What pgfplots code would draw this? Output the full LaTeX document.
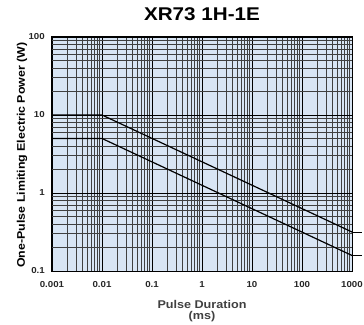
\documentclass[border=0pt]{standalone}
\usepackage{fontspec}
\setmainfont{Liberation Sans}[FakeStretch=1.12]
\usepackage{pgfplots}
\pgfplotsset{compat=1.18}
\definecolor{bgblue}{RGB}{216,229,244}
\begin{document}
\begin{tikzpicture}
\useasboundingbox (-52bp,-54bp) rectangle (312bp,271bp);
\begin{axis}[
  at={(0,0)}, anchor=south west,
  scale only axis, width=300bp, height=234bp,
  xmode=log, ymode=log,
  xmin=0.001, xmax=1000, ymin=0.1, ymax=100,
  axis background/.style={fill=bgblue},
  axis line style={black, line width=1pt},
  xtick={0.001,0.01,0.1,1,10,100,1000},
  xticklabels={0.001,0.01,0.1,1,10,100,1000},
  ytick={0.1,1,10,100},
  yticklabels={0.1,1,10,100},
  minor xtick={0.002,0.003,0.004,0.005,0.006,0.007,0.008,0.009,
    0.02,0.03,0.04,0.05,0.06,0.07,0.08,0.09,
    0.2,0.3,0.4,0.5,0.6,0.7,0.8,0.9,
    2,3,4,5,6,7,8,9,20,30,40,50,60,70,80,90,
    200,300,400,500,600,700,800,900},
  minor ytick={0.2,0.3,0.4,0.5,0.6,0.7,0.8,0.9,
    2,3,4,5,6,7,8,9,20,30,40,50,60,70,80,90},
  major tick length=0pt, minor tick length=0pt,
  grid=both,
  major grid style={black, line width=0.9pt},
  minor grid style={black!75, line width=0.7pt},
  tick label style={font=\fontsize{8.7}{10}\selectfont\bfseries, text=black!85},
  xticklabel style={anchor=north, inner sep=0pt, yshift=-10bp},
  yticklabel style={anchor=east, inner sep=0pt, xshift=-7bp},
  title={XR73 1H-1E},
  title style={at={(0.5,1)}, anchor=base, yshift=10.5bp, inner sep=0pt,
    font=\fontsize{18.5}{22}\selectfont\bfseries},
  xlabel={Pulse Duration\\(ms)},
  xlabel style={at={(axis description cs:0.5,0)}, anchor=north, inner sep=0pt,
    yshift=-29bp, align=center, text=black!75,
    font=\fontsize{11.3}{10.7}\selectfont\bfseries},
  ylabel={One-Pulse Limiting Electric Power (W)},
  ylabel style={at={(axis description cs:-0.09,0.495)}, anchor=base, rotate=0,
    inner sep=0pt, font=\fontsize{11.1}{12}\selectfont\bfseries},
  clip=false,
]
\addplot[black, line width=1.2pt] coordinates {(0.001,10) (0.01,10) (1000,0.3162)};
\addplot[black, line width=1.2pt] coordinates {(0.001,5) (0.01,5) (1000,0.1581)};
\addplot[black, line width=0.9pt] coordinates {(1000,0.3162) (1585,0.3162)};
\addplot[black, line width=0.9pt] coordinates {(1000,0.1581) (1585,0.1581)};
\end{axis}
\end{tikzpicture}
\end{document}
